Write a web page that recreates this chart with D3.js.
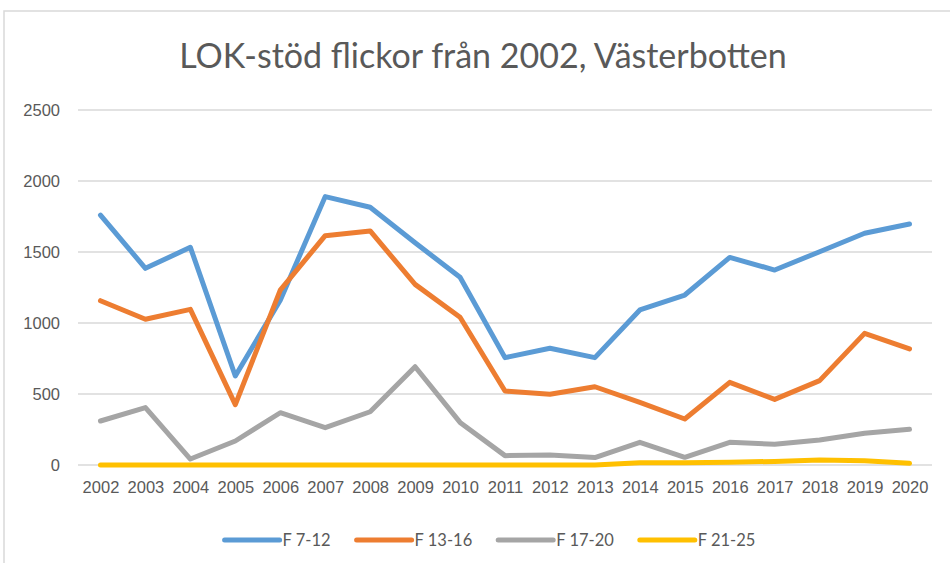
<!DOCTYPE html>
<html>
<head>
<meta charset="utf-8">
<script src="https://cdn.jsdelivr.net/npm/d3@7"></script>
<style>
  body { margin: 0; background: #fff; }
  svg { display: block; font-family: Lato, "Open Sans", sans-serif; }
</style>
</head>
<body>
<div id="chart"></div>
<script>
// values
const years = ["2002","2003","2004","2005","2006","2007","2008","2009","2010","2011",
               "2012","2013","2014","2015","2016","2017","2018","2019","2020"];
const f7_12  = [1760,1385,1533,627,1160,1890,1815,1565,1322,756,822,756,1092,1197,1462,1373,1502,1632,1697];
const f13_16 = [1157,1026,1096,425,1232,1615,1648,1272,1040,521,498,551,441,324,582,462,594,927,817];
const f17_20 = [310,404,42,169,368,263,375,692,300,66,70,52,160,54,160,146,176,223,251];
const f21_25 = [0,0,0,0,0,0,0,0,0,0,0,0,16,15,20,25,35,30,12];
const seriesNames = ["F 7-12", "F 13-16", "F 17-20", "F 21-25"];
const colors = ["#5B9BD5", "#ED7D31", "#A5A5A5", "#FFC000"];
const yTicks = [0, 500, 1000, 1500, 2000, 2500];

const width = 950, height = 563;
const margin = { top: 110, right: 18, bottom: 98, left: 78 };

const svg = d3.select("#chart").append("svg")
    .attr("width", width)
    .attr("height", height);

// chart frame
svg.append("rect")
    .attr("x", 4).attr("y", 11)
    .attr("width", width).attr("height", height)
    .attr("fill", "#fff")
    .attr("stroke", "#D9D9D9")
    .attr("stroke-width", 1.5);

svg.append("text")
    .attr("x", 483).attr("y", 68)
    .attr("text-anchor", "middle")
    .attr("fill", "#595959")
    .style("font-size", "34px")
    .text("LOK-stöd flickor från 2002, Västerbotten");

const x = d3.scalePoint()
    .domain(years)
    .range([margin.left, width - margin.right])
    .padding(0.5);

const y = d3.scaleLinear()
    .domain([0, 2500])
    .range([height - margin.bottom, margin.top]);

// gridlines
svg.append("g")
    .selectAll("line")
    .data(yTicks)
    .join("line")
        .attr("x1", margin.left)
        .attr("x2", width - margin.right)
        .attr("y1", d => y(d))
        .attr("y2", d => y(d))
        .attr("stroke", "#D9D9D9")
        .attr("stroke-width", 1.3);

const yAxis = svg.append("g")
    .attr("transform", `translate(${margin.left - 18},0)`)
    .call(d3.axisLeft(y).tickValues(yTicks).tickFormat(d3.format("d")).tickSize(0).tickPadding(0));
yAxis.select(".domain").remove();
yAxis.selectAll("text")
    .attr("fill", "#595959")
    .style("font-size", "16.5px");

const xAxis = svg.append("g")
    .attr("transform", `translate(0,${height - margin.bottom})`)
    .call(d3.axisBottom(x).tickSize(0).tickPadding(16));
xAxis.select(".domain").remove();
xAxis.selectAll("text")
    .attr("fill", "#595959")
    .style("font-size", "16.5px");

const data = [f7_12, f13_16, f17_20, f21_25];

const line = d3.line()
    .x((d, i) => x(years[i]))
    .y(d => y(d));

svg.append("g")
    .selectAll("path")
    .data(data)
    .join("path")
        .attr("d", line)
        .attr("fill", "none")
        .attr("stroke", (d, i) => colors[i])
        .attr("stroke-width", 5)
        .attr("stroke-linejoin", "round")
        .attr("stroke-linecap", "round");

// legend
const legend = svg.append("g");
const items = legend.selectAll("g")
    .data(seriesNames)
    .join("g");
items.append("line")
    .attr("x1", 0).attr("x2", 55)
    .attr("y1", 0).attr("y2", 0)
    .attr("stroke", (d, i) => colors[i])
    .attr("stroke-width", 5)
    .attr("stroke-linecap", "round");
items.append("text")
    .attr("x", 58)
    .attr("dy", "0.35em")
    .attr("fill", "#595959")
    .style("font-size", "16.5px")
    .text(d => d);

let pos = 0;
const gap = 26;
items.each(function () {
    const w = 58 + d3.select(this).select("text").node().getComputedTextLength();
    d3.select(this).attr("transform", `translate(${pos},540)`);
    pos += w + gap;
});
const total = pos - gap;
legend.attr("transform", `translate(${490 - total / 2},0)`);
</script>
</body>
</html>
